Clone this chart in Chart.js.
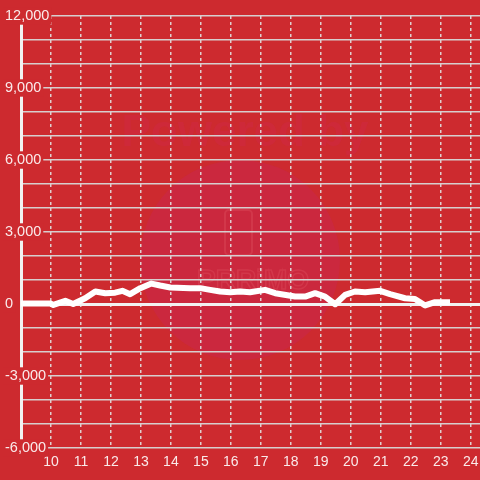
<!DOCTYPE html>
<html>
<head>
<meta charset="utf-8">
<script src="https://cdn.jsdelivr.net/npm/chart.js@4/dist/chart.umd.min.js"></script>
<style>
  html, body { margin: 0; padding: 0; background: #cd2a2f; }
  #wrap { width: 480px; height: 480px; }
</style>
</head>
<body>
<div id="wrap"><canvas id="chart"></canvas></div>
<script>
// heures (axe x) et valeurs
const heures = [9.0, 9.98, 10.08, 10.48, 10.74, 11.14, 11.48, 11.81, 12.14, 12.38, 12.64, 12.98, 13.35, 13.64, 13.98, 14.64, 14.98, 15.31, 15.64, 15.98, 16.31, 16.64, 17.14, 17.48, 18.14, 18.48, 18.81, 19.14, 19.48, 19.81, 20.14, 20.48, 20.98, 21.31, 21.81, 22.14, 22.48, 22.81, 23.31];
const valeurs = [20, 20, -40, 130, 0, 240, 520, 450, 470, 550, 410, 660, 850, 770, 690, 660, 660, 590, 520, 490, 520, 490, 590, 450, 310, 310, 450, 310, -10, 380, 520, 490, 550, 410, 240, 210, -60, 75, 75];
const xTicks = [10, 11, 12, 13, 14, 15, 16, 17, 18, 19, 20, 21, 22, 23, 24];
const yMin = -6000;
const yMax = 12000;

const fond = {
    id: 'fond',
    beforeDraw(chart) {
        const c = chart.ctx;
        c.save();
        c.fillStyle = '#cd2a2f';
        c.fillRect(0, 0, chart.width, chart.height);
        // filigrane
        c.fillStyle = 'rgba(200, 35, 100, 0.3)';
        c.beginPath();
        c.arc(240, 260, 100, 0, Math.PI * 2);
        c.fill();
        c.font = 'bold 44px "Liberation Sans", Arial, sans-serif';
        c.textAlign = 'center';
        c.textBaseline = 'middle';
        c.fillStyle = 'rgba(210, 40, 95, 0.22)';
        c.fillText('Powered by', 245, 134);
        c.strokeStyle = 'rgba(235, 110, 120, 0.22)';
        c.lineWidth = 2;
        c.beginPath();
        c.roundRect(225, 210, 27, 45, 4);
        c.stroke();
        c.font = 'bold 28px "Liberation Sans", Arial, sans-serif';
        c.lineWidth = 1.5;
        c.strokeText('PRRiMO', 253, 281);
        c.restore();
    }
};

const ctx = document.getElementById('chart').getContext('2d');

const data = {
    datasets: [{
        data: heures.map((h, i) => ({ x: h, y: valeurs[i] })),
        borderColor: '#ffffff',
        borderWidth: 6,
        borderJoinStyle: 'round',
        pointRadius: 0,
        tension: 0,
        fill: false
    }]
};

const config = {
    type: 'line',
    data: data,
    plugins: [fond],
    options: {
        responsive: true,
        maintainAspectRatio: false,
        animation: false,
        layout: { padding: { left: 5, right: 0, top: 16, bottom: 0 } },
        plugins: {
            legend: { display: false },
            tooltip: { enabled: false }
        },
        scales: {
            x: {
                type: 'linear',
                min: 9.0,
                max: 24.31,
                afterBuildTicks: (s) => { s.ticks = xTicks.map(v => ({ value: v })); },
                afterFit: (s) => { s.height = 32; s.paddingLeft = 0; s.paddingRight = 0; },
                ticks: {
                    color: 'rgba(255, 255, 255, 0.9)',
                    font: { size: 14, family: '"Liberation Sans", Arial, sans-serif' },
                    padding: 6,
                    maxRotation: 0,
                    autoSkip: false
                },
                grid: {
                    color: 'rgba(225, 225, 225, 0.9)',
                    lineWidth: 1.5,
                    drawTicks: false
                },
                border: { display: false, dash: [3, 3] }
            },
            y: {
                min: yMin,
                max: yMax,
                afterFit: (s) => { s.width = 16; s.paddingTop = 0; s.paddingBottom = 0; },
                ticks: {
                    stepSize: 1000,
                    autoSkip: false,
                    mirror: true,
                    crossAlign: 'near',
                    padding: -16,
                    color: 'rgba(255, 255, 255, 0.9)',
                    font: { size: 14.5, family: '"Liberation Sans", Arial, sans-serif' },
                    showLabelBackdrop: (c) => c.tick && c.tick.value % 3000 === 0,
                    backdropColor: '#cd2a2f',
                    backdropPadding: { x: 2, y: 0 },
                    callback: (v) => v % 3000 === 0 ? v.toLocaleString('en-US') : ''
                },
                grid: {
                    color: (c) => c.tick && c.tick.value === 0 ? '#f2f2f2' : 'rgba(215, 215, 215, 0.95)',
                    lineWidth: (c) => c.tick && c.tick.value === 0 ? 3 : 1.5,
                    drawTicks: false
                },
                border: { display: true, color: '#f2f2f2', width: 3 }
            }
        }
    }
};

window.graphique = new Chart(ctx, config);
</script>
</body>
</html>
